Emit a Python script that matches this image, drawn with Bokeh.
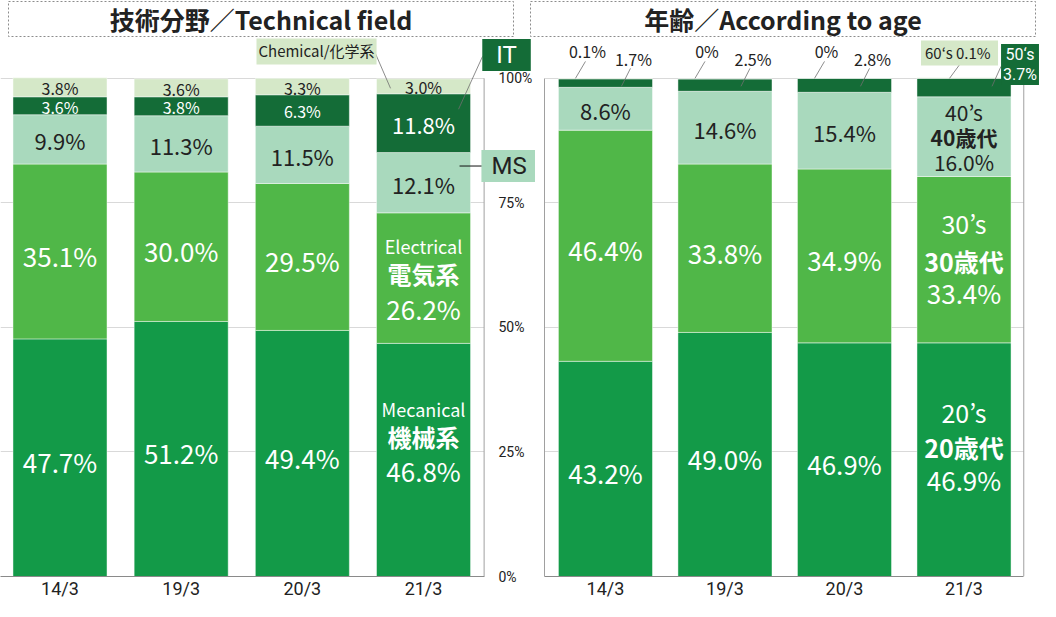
from bokeh.plotting import figure
from bokeh.models import (ColumnDataSource, FixedTicker, LinearAxis, Range1d, Label,
                          Grid, PrintfTickFormatter, BoxAnnotation)
from bokeh.layouts import column, row
from bokeh.embed import file_html
from bokeh.resources import INLINE
from bokeh.core.properties import value

# ---------------- data ----------------
periods = ["14/3", "19/3", "20/3", "21/3"]

mechanical = [47.7, 51.2, 49.4, 46.8]
electrical = [35.1, 30.0, 29.5, 26.2]
ms = [9.9, 11.3, 11.5, 12.1]
it = [3.6, 3.8, 6.3, 11.8]
chemical = [3.8, 3.6, 3.3, 3.0]

age_20s = [43.2, 49.0, 46.9, 46.9]
age_30s = [46.4, 33.8, 34.9, 33.4]
age_40s = [8.6, 14.6, 15.4, 16.0]
age_50s = [1.7, 2.5, 2.8, 3.7]
age_60s = [0.1, 0.0, 0.0, 0.1]

y_ticks = [0, 25, 50, 75, 100]

title_tech = "技術分野／Technical field"
title_age = "年齢／According to age"
tech_en = ["Mecanical", "Electrical", "MS", "IT", "Chemical"]
tech_jp = ["機械系", "電気系", "", "", "化学系"]
age_en = ["20’s", "30’s", "40’s", "50‘s", "60‘s"]
age_jp = ["20歳代", "30歳代", "40歳代", "", ""]

# ---------------- style ----------------
FONT = "Noto Sans CJK JP"
AXFONT = "Roboto"
DARK = "#222222"
WHITE = "#FFFFFF"
COLORS = ["#139A48", "#50B748", "#A9D9BD", "#146C37", "#D5E8C8"]
LEADER = "#6E6E6E"
FRAMELINE = "#A0A0A0"

FRAME_H = 540
Y_TOP = 108.0
SY = FRAME_H / Y_TOP          # pixels per percent
EDGE = len(periods) - 0.5     # right edge of the category band


def fmt(v):
    return "0%" if v == 0 else f"{v:.1f}%"


def py(px):
    return px / SY


def make_title(text, width, bl, br):
    t = figure(width=width, height=37, x_range=Range1d(0, 1), y_range=Range1d(0, 1),
               x_axis_type=None, y_axis_type=None, toolbar_location=None,
               output_backend="svg", min_border_left=bl, min_border_right=br,
               min_border_top=1, min_border_bottom=1)
    t.outline_line_color = "#8C8C8C"
    t.outline_line_dash = "2 2"
    t.outline_line_width = 1
    t.add_layout(Label(x=0.5, y=0.5, text=text, text_align="center", text_baseline="middle",
                       text_font=FONT, text_font_size="25px", text_font_style="bold",
                       text_color=DARK))
    return t


def make_chart(x0, x1, width, bl, br):
    p = figure(width=width, height=564, x_range=Range1d(x0, x1), y_range=Range1d(0, Y_TOP),
               toolbar_location=None, output_backend="svg", y_axis_location=None,
               min_border_left=bl, min_border_right=br, min_border_top=1, min_border_bottom=23)
    p.outline_line_color = None
    p.xgrid.visible = False
    p.ygrid.visible = False
    p.add_layout(Grid(dimension=1, ticker=FixedTicker(ticks=y_ticks),
                      grid_line_color="#D9D9D9", grid_line_width=1))
    # white mask so that grid lines stop at the edge of the category band
    p.add_layout(BoxAnnotation(left=EDGE, fill_color="white", fill_alpha=1.0,
                               line_color=None, level="underlay"))
    ax = p.xaxis[0]
    ax.ticker = FixedTicker(ticks=list(range(len(periods))))
    ax.major_label_overrides = {i: periods[i] for i in range(len(periods))}
    ax.bounds = (x0, EDGE)
    ax.major_tick_line_color = None
    ax.major_tick_out = 0
    ax.major_tick_in = 0
    ax.minor_tick_line_color = None
    ax.axis_line_color = "#8A8A8A"
    ax.major_label_standoff = 1
    ax.major_label_text_font = AXFONT
    ax.major_label_text_font_size = "18px"
    ax.major_label_text_color = DARK
    # vertical frame line on the right edge of the band
    p.segment(x0=[EDGE], y0=[0], x1=[EDGE], y1=[100], line_color=FRAMELINE, line_width=1)
    return p


def new_rows():
    return dict(x=[], y=[], text=[], color=[], size=[], style=[])


def add_row(rows, x, y, text, color, size, style="normal"):
    rows["x"].append(x)
    rows["y"].append(y)
    rows["text"].append(text)
    rows["color"].append(color)
    rows["size"].append(size)
    rows["style"].append(style)


def draw_texts(p, rows):
    p.text(x="x", y="y", text="text", source=ColumnDataSource(rows), text_align="center",
           text_baseline="middle", text_color="color", text_font_size="size",
           text_font_style="style", text_font=value(FONT))


def box_label(p, x, y, text, bg, color, size, pad, font=FONT):
    # pad = (horizontal, vertical)
    p.add_layout(Label(x=x, y=y, text=text, text_align="center", text_baseline="middle",
                       text_color=color, text_font_size=size, text_font=font,
                       background_fill_color=bg, padding=pad, text_line_height=1.05))


last = len(periods) - 1
BIG, MID, SMALL = "26px", "22px", "16px"

# ================= left: technical field =================
XL0, XL1, FWL = -0.491, 3.924, 535


def lx(px):
    return px * (XL1 - XL0) / FWL


pL = make_chart(XL0, XL1, 535, 0, 0)
tech = [mechanical, electrical, ms, it, chemical]
srcL = ColumnDataSource(dict(x=list(range(len(periods))), s0=mechanical, s1=electrical,
                             s2=ms, s3=it, s4=chemical))
pL.vbar_stack(["s0", "s1", "s2", "s3", "s4"], x="x", width=0.776, fill_color=COLORS,
              line_color="white", line_width=1, line_alpha=0.45, source=srcL)

# percentage axis sitting between the two charts
axR = LinearAxis(ticker=FixedTicker(ticks=y_ticks), bounds=(0, 100),
                 formatter=PrintfTickFormatter(format="%d%%"))
axR.axis_line_color = None
axR.major_tick_line_color = None
axR.major_tick_out = 0
axR.major_tick_in = 0
axR.minor_tick_line_color = None
axR.major_label_standoff = -37
axR.major_label_text_font = AXFONT
axR.major_label_text_font_size = "14px"
axR.major_label_text_color = DARK
pL.add_layout(axR, "right")

block_L = {0: ([-51, -24, 11], ["18px", "24px", BIG]),
           1: ([-32, -5, 31], ["18px", "24px", BIG])}
rowsL = new_rows()
for i in range(len(periods)):
    base = 0.0
    for k, vals in enumerate(tech):
        v = vals[i]
        mid = base + v / 2
        base += v
        color = WHITE if k in (0, 1, 3) else DARK
        if i == last and k in block_L:
            offs, sizes = block_L[k]
            lines = [tech_en[k], tech_jp[k], fmt(v)]
            styles = ["normal", "bold", "normal"]
            for ln, o, s, st in zip(lines, offs, sizes, styles):
                add_row(rowsL, i, mid - py(o), ln, color, s, st)
        elif k < 2:
            add_row(rowsL, i, mid - py(4), fmt(v), color, BIG)
        else:
            add_row(rowsL, i, mid - py(1), fmt(v), color, MID if v >= 8 else SMALL)
draw_texts(pL, rowsL)

# outside labels of the last technical bar
pL.segment(x0=[last + lx(-49), last + lx(59)], y0=[100 + py(27), 100 + py(22)],
           x1=[last + lx(-33), last + lx(35)], y1=[100 - py(10), 100 - py(31)],
           line_color=LEADER, line_width=0.8)
pL.segment(x0=[last + lx(36)], y0=[100 - py(88)], x1=[last + lx(60)], y1=[100 - py(88)],
           line_color="#111111", line_width=1)
box_label(pL, last + lx(-107), 100 + py(27.5), f"{tech_en[4]}/{tech_jp[4]}",
          COLORS[4], DARK, "15px", (2, 3))
box_label(pL, last + lx(83), 100 + py(23.5), tech_en[3], COLORS[3], WHITE, "24px", (14, 2),
          AXFONT)
box_label(pL, last + lx(85.5), 100 - py(88), tech_en[2], COLORS[2], DARK, "24px", (10, 2),
          AXFONT)

# ================= right: age =================
XR0, XR1, FWR = -0.510, 3.640, 496


def rx(px):
    return px * (XR1 - XR0) / FWR


pR = make_chart(XR0, XR1, 505, 9, 0)
ages = [age_20s, age_30s, age_40s, age_50s, age_60s]
srcR = ColumnDataSource(dict(x=list(range(len(periods))), a0=age_20s, a1=age_30s,
                             a2=age_40s, a3=age_50s, a4=age_60s))
pR.vbar_stack(["a0", "a1", "a2", "a3", "a4"], x="x", width=0.787, fill_color=COLORS,
              line_color="white", line_width=1, line_alpha=0.45, source=srcR)

axl = LinearAxis(ticker=FixedTicker(ticks=[]), bounds=(0, 100))
axl.axis_line_color = FRAMELINE
axl.major_tick_out = 0
axl.major_tick_in = 0
axl.major_label_standoff = 0
pR.add_layout(axl, "left")

block_R = {0: ([-48, -13, 20], ["25px", "25px", BIG], WHITE),
           1: ([-37, 1, 33], ["25px", "25px", BIG], WHITE),
           2: ([-25, 0, 25], ["21px", "21px", "21px"], DARK)}
rowsR = new_rows()
lead = dict(x0=[], y0=[], x1=[], y1=[])
for i in range(len(periods)):
    base = 0.0
    for k, vals in enumerate(ages):
        v = vals[i]
        mid = base + v / 2
        base += v
        if i == last and k in block_R:
            offs, sizes, color = block_R[k]
            lines = [age_en[k], age_jp[k], fmt(v)]
            styles = ["normal", "bold", "normal"]
            for ln, o, s, st in zip(lines, offs, sizes, styles):
                add_row(rowsR, i, mid - py(o), ln, color, s, st)
        elif k < 2:
            add_row(rowsR, i, mid - py(4), fmt(v), WHITE, BIG)
        elif k == 2:
            add_row(rowsR, i, mid - py(1), fmt(v), DARK, MID)
        elif i < last:
            if k == 4:
                add_row(rowsR, i + rx(-18), 100 + py(27), fmt(v), DARK, SMALL)
                lead["x0"].append(i + rx(-20)); lead["y0"].append(100 + py(17))
                lead["x1"].append(i + rx(-30)); lead["y1"].append(100)
            else:
                add_row(rowsR, i + rx(28), 100 + py(19), fmt(v), DARK, SMALL)
                lead["x0"].append(i + rx(25)); lead["y0"].append(100 + py(10))
                lead["x1"].append(i + rx(16)); lead["y1"].append(100 - py(8))
draw_texts(pR, rowsR)

lead["x0"] += [last + rx(-3.5), last + rx(37)]
lead["y0"] += [100 + py(15), 100 + py(12)]
lead["x1"] += [last + rx(-14.5), last + rx(28)]
lead["y1"] += [100, 100 - py(8)]
pR.segment(x0="x0", y0="y0", x1="x1", y1="y1", source=ColumnDataSource(lead),
           line_color=LEADER, line_width=0.8)
box_label(pR, last + rx(-4.5), 100 + py(25.5), f"{age_en[4]}  {fmt(age_60s[last])}",
          COLORS[4], DARK, "15px", (4, 2))
box_label(pR, last + rx(56), 100 + py(14), f"{age_en[3]}\n{fmt(age_50s[last])}",
          COLORS[3], WHITE, "16px", (2, 1), AXFONT)

# ================= layout =================
tL = make_title(title_tech, 530, 8, 17)
tR = make_title(title_age, 510, 0, 5)
layout = column(row(tL, tR), row(pL, pR))

open("out.html", "w").write(file_html(layout, INLINE))
